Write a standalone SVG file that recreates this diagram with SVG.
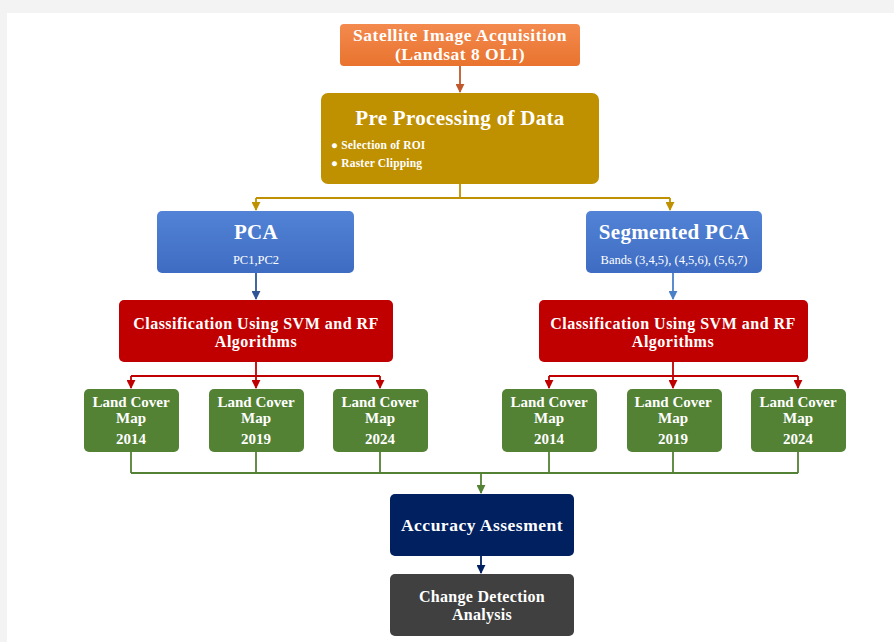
<svg xmlns="http://www.w3.org/2000/svg" width="894" height="642" viewBox="0 0 894 642">
<style>
  text { font-family: "Liberation Serif", "Times New Roman", serif; fill: #ffffff; text-anchor: middle; font-weight: bold; }
  .t17 { font-size: 17.5px; letter-spacing: 0.5px; }
  .t16 { font-size: 16px; letter-spacing: 0.3px; }
  .t20 { font-size: 21px; letter-spacing: 0.3px; }
  .t15 { font-size: 16px; letter-spacing: 0.5px; }
  .t14 { font-size: 15px; }
  .b11 { font-size: 11.5px; text-anchor: start; letter-spacing: 0.2px; }
  .s11 { font-size: 12.5px; font-weight: normal; }
  .conn { fill: none; stroke-width: 1.8; }
</style>
<defs>
  <linearGradient id="gOrange" x1="0" y1="0" x2="0" y2="1"><stop offset="0" stop-color="#f38a4e"/><stop offset="1" stop-color="#e9732e"/></linearGradient>
  <linearGradient id="gBlue" x1="0" y1="0" x2="0" y2="1"><stop offset="0" stop-color="#5283d6"/><stop offset="1" stop-color="#3e6cc2"/></linearGradient>
  <marker id="aOr" viewBox="0 0 10 10" refX="9" refY="5" markerWidth="5" markerHeight="5" orient="auto"><path d="M0,0 L10,5 L0,10 z" fill="#c0582b"/></marker>
  <marker id="aGold" viewBox="0 0 10 10" refX="9" refY="5" markerWidth="5" markerHeight="5" orient="auto"><path d="M0,0 L10,5 L0,10 z" fill="#bf9000"/></marker>
  <marker id="aBlue" viewBox="0 0 10 10" refX="9" refY="5" markerWidth="5" markerHeight="5" orient="auto"><path d="M0,0 L10,5 L0,10 z" fill="#2f5597"/></marker>
  <marker id="aBlue2" viewBox="0 0 10 10" refX="9" refY="5" markerWidth="5" markerHeight="5" orient="auto"><path d="M0,0 L10,5 L0,10 z" fill="#4a80c8"/></marker>
  <marker id="aRed" viewBox="0 0 10 10" refX="9" refY="5" markerWidth="5" markerHeight="5" orient="auto"><path d="M0,0 L10,5 L0,10 z" fill="#c00000"/></marker>
  <marker id="aGreen" viewBox="0 0 10 10" refX="9" refY="5" markerWidth="5" markerHeight="5" orient="auto"><path d="M0,0 L10,5 L0,10 z" fill="#548235"/></marker>
  <marker id="aNavy" viewBox="0 0 10 10" refX="9" refY="5" markerWidth="5" markerHeight="5" orient="auto"><path d="M0,0 L10,5 L0,10 z" fill="#002060"/></marker>
</defs>
<rect x="0" y="0" width="894" height="642" fill="#f3f3f3"/>
<rect x="7" y="13" width="887" height="629" fill="#ffffff"/>

<g id="connectors">
  <path class="conn" d="M460,66 V92" stroke="#c0582b" marker-end="url(#aOr)"/>
  <path class="conn" d="M460,184 V198 M256,198 H670" stroke="#bf9000"/>
  <path class="conn" d="M256,198 V210" stroke="#bf9000" marker-end="url(#aGold)"/>
  <path class="conn" d="M670,198 V210" stroke="#bf9000" marker-end="url(#aGold)"/>
  <path class="conn" d="M256,273 V299" stroke="#2f5597" marker-end="url(#aBlue)"/>
  <path class="conn" d="M673,273 V299" stroke="#4a80c8" marker-end="url(#aBlue2)"/>
  <path class="conn" d="M256,362 V376 M131,376 H380" stroke="#c00000"/>
  <path class="conn" d="M131,376 V388" stroke="#c00000" marker-end="url(#aRed)"/>
  <path class="conn" d="M256,376 V388" stroke="#c00000" marker-end="url(#aRed)"/>
  <path class="conn" d="M380,376 V388" stroke="#c00000" marker-end="url(#aRed)"/>
  <path class="conn" d="M673,362 V376 M549,376 H798" stroke="#c00000"/>
  <path class="conn" d="M549,376 V388" stroke="#c00000" marker-end="url(#aRed)"/>
  <path class="conn" d="M673,376 V388" stroke="#c00000" marker-end="url(#aRed)"/>
  <path class="conn" d="M798,376 V388" stroke="#c00000" marker-end="url(#aRed)"/>
  <path class="conn" d="M131,452 V473 M256,452 V473 M380,452 V473 M549,452 V473 M673,452 V473 M798,452 V473 M131,473 H798" stroke="#548235"/>
  <path class="conn" d="M481,473 V493" stroke="#548235" marker-end="url(#aGreen)"/>
  <path class="conn" d="M481,556 V573" stroke="#002060" marker-end="url(#aNavy)"/>
</g>

<g id="satellite">
  <rect x="340" y="24" width="240" height="42" rx="4" fill="url(#gOrange)"/>
  <text class="t17" x="460" y="41">Satellite Image Acquisition</text>
  <text class="t17" x="460" y="60">(Landsat 8 OLI)</text>
</g>

<g id="preprocessing">
  <rect x="321" y="93" width="278" height="91" rx="7" fill="#bf9000"/>
  <text class="t20" x="460" y="125">Pre Processing of Data</text>
  <text class="b11" x="331" y="149">● Selection of ROI</text>
  <text class="b11" x="331" y="167">● Raster Clipping</text>
</g>

<g id="pca">
  <rect x="157" y="211" width="197" height="62" rx="5" fill="url(#gBlue)"/>
  <text class="t20" x="256" y="239">PCA</text>
  <text class="s11" x="256" y="264">PC1,PC2</text>
</g>

<g id="segmented-pca">
  <rect x="586" y="211" width="176" height="62" rx="5" fill="url(#gBlue)"/>
  <text class="t20" x="674" y="239">Segmented PCA</text>
  <text class="s11" x="674" y="264">Bands (3,4,5), (4,5,6), (5,6,7)</text>
</g>

<g id="classification-left">
  <rect x="119" y="300" width="274" height="62" rx="5" fill="#c00000"/>
  <text class="t15" x="256" y="329">Classification Using SVM and RF</text>
  <text class="t15" x="256" y="347">Algorithms</text>
</g>

<g id="classification-right">
  <rect x="539" y="300" width="269" height="62" rx="5" fill="#c00000"/>
  <text class="t15" x="673" y="329">Classification Using SVM and RF</text>
  <text class="t15" x="673" y="347">Algorithms</text>
</g>

<g id="lcm-left-2014">
  <rect x="84" y="389" width="95" height="63" rx="5" fill="#548235"/>
  <text class="t14" x="131" y="407">Land Cover</text>
  <text class="t14" x="131" y="423">Map</text>
  <text class="t14" x="131" y="444">2014</text>
</g>
<g id="lcm-left-2019">
  <rect x="209" y="389" width="95" height="63" rx="5" fill="#548235"/>
  <text class="t14" x="256" y="407">Land Cover</text>
  <text class="t14" x="256" y="423">Map</text>
  <text class="t14" x="256" y="444">2019</text>
</g>
<g id="lcm-left-2024">
  <rect x="333" y="389" width="95" height="63" rx="5" fill="#548235"/>
  <text class="t14" x="380" y="407">Land Cover</text>
  <text class="t14" x="380" y="423">Map</text>
  <text class="t14" x="380" y="444">2024</text>
</g>
<g id="lcm-right-2014">
  <rect x="502" y="389" width="95" height="63" rx="5" fill="#548235"/>
  <text class="t14" x="549" y="407">Land Cover</text>
  <text class="t14" x="549" y="423">Map</text>
  <text class="t14" x="549" y="444">2014</text>
</g>
<g id="lcm-right-2019">
  <rect x="627" y="389" width="95" height="63" rx="5" fill="#548235"/>
  <text class="t14" x="673" y="407">Land Cover</text>
  <text class="t14" x="673" y="423">Map</text>
  <text class="t14" x="673" y="444">2019</text>
</g>
<g id="lcm-right-2024">
  <rect x="751" y="389" width="95" height="63" rx="5" fill="#548235"/>
  <text class="t14" x="798" y="407">Land Cover</text>
  <text class="t14" x="798" y="423">Map</text>
  <text class="t14" x="798" y="444">2024</text>
</g>

<g id="accuracy">
  <rect x="390" y="494" width="184" height="62" rx="5" fill="#002060"/>
  <text class="t17" x="482" y="531">Accuracy Assesment</text>
</g>

<g id="change-detection">
  <rect x="390" y="574" width="184" height="62" rx="5" fill="#404040"/>
  <text class="t16" x="482" y="602">Change Detection</text>
  <text class="t16" x="482" y="620">Analysis</text>
</g>
</svg>
